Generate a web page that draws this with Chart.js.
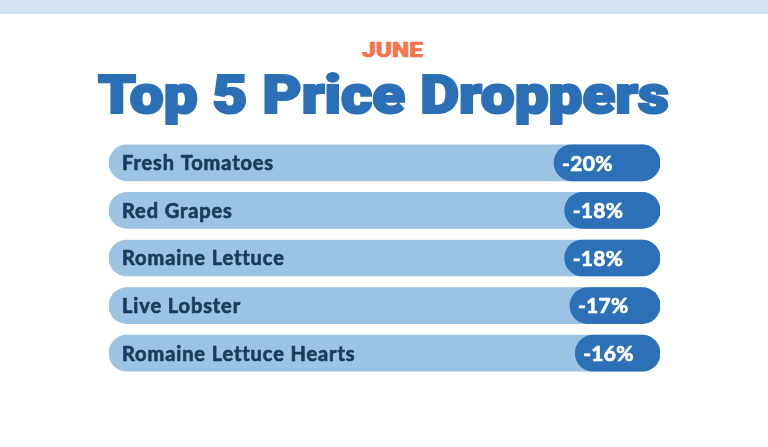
<!DOCTYPE html>
<html>
<head>
<meta charset="utf-8">
<script src="https://cdn.jsdelivr.net/npm/chart.js@4"></script>
<style>
  html, body { margin: 0; padding: 0; background: #fff; }
  body { width: 768px; height: 447px; position: relative; overflow: hidden; }
  .band { position: absolute; left: 0; top: 0; width: 768px; height: 14px; background: #d5e3f0; }
  .fit { position: absolute; white-space: nowrap; transform-origin: 0 0; font-family: Roboto, sans-serif; font-weight: 900; line-height: 1; }
  #month { color: #f2754f; font-size: 20px; -webkit-text-stroke: 0.6px #f2754f; }
  #title { color: #2b6fb6; font-size: 53px; -webkit-text-stroke: 2.2px #2b6fb6; }
  #wrap { position: absolute; left: 0; top: 0; width: 768px; height: 447px; }
</style>
</head>
<body>
<div class="band"></div>
<div id="month" class="fit" data-left="362" data-top="42" data-w="61">JUNE</div>
<div id="title" class="fit" data-left="98" data-top="75" data-w="571">Top 5 Price Droppers</div>
<div id="wrap"><canvas id="chart"></canvas></div>
<script>
// data
const items = ['Fresh Tomatoes', 'Red Grapes', 'Romaine Lettuce', 'Live Lobster', 'Romaine Lettuce Hearts'];
const drops = [20, 18, 18, 17, 16];
const scaleMax = 104;
const track = items.map(() => scaleMax);

// stretch header text to the width it has in the picture
document.querySelectorAll('.fit').forEach((el) => {
    let w = el.getBoundingClientRect().width;
    let sx = Number(el.dataset.w) / w;
    el.style.left = el.dataset.left + 'px';
    el.style.top = (Number(el.dataset.top) - 0.12 * parseFloat(getComputedStyle(el).fontSize)) + 'px';
    el.style.transform = 'scaleX(' + sx + ')';
});

const labelPlugin = {
    id: 'barLabels',
    afterDatasetsDraw(chart) {
        let ctx = chart.ctx;
        let area = chart.chartArea;
        let dark = chart.getDatasetMeta(0).data;
        ctx.save();
        ctx.textBaseline = 'middle';
        ctx.textAlign = 'left';
        ctx.lineJoin = 'round';
        ctx.lineWidth = 0.7;
        items.forEach((name, i) => {
            let y = chart.scales.y.getPixelForValue(i) + 1;
            ctx.font = '700 20px Lato, sans-serif';
            ctx.letterSpacing = '0.9px';
            ctx.fillStyle = '#1b3b5c';
            ctx.strokeStyle = '#1b3b5c';
            ctx.fillText(name, area.left + 13, y);
            ctx.strokeText(name, area.left + 13, y);
            ctx.font = '700 21px Lato, sans-serif';
            ctx.letterSpacing = '0.3px';
            ctx.fillStyle = '#ffffff';
            ctx.strokeStyle = '#ffffff';
            ctx.fillText('-' + drops[i] + '%', dark[i].x + 8, y);
            ctx.strokeText('-' + drops[i] + '%', dark[i].x + 8, y);
        });
        ctx.restore();
    }
};

new Chart(document.getElementById('chart'), {
    type: 'bar',
    data: {
        labels: items,
        datasets: [{
            data: drops,
            backgroundColor: '#2c70b7',
            borderRadius: 18,
            borderSkipped: false,
            barThickness: 36,
            grouped: false
        }, {
            data: track,
            backgroundColor: '#9bc4e4',
            borderRadius: 18,
            borderSkipped: false,
            barThickness: 36,
            grouped: false
        }]
    },
    options: {
        indexAxis: 'y',
        responsive: true,
        maintainAspectRatio: false,
        animation: false,
        layout: {
            padding: { left: 109, right: 108, top: 139, bottom: 70 }
        },
        scales: {
            x: { display: false, reverse: true, min: 0, max: scaleMax },
            y: { display: false }
        },
        plugins: {
            legend: { display: false },
            tooltip: { enabled: false }
        }
    },
    plugins: [labelPlugin]
});
</script>
</body>
</html>
